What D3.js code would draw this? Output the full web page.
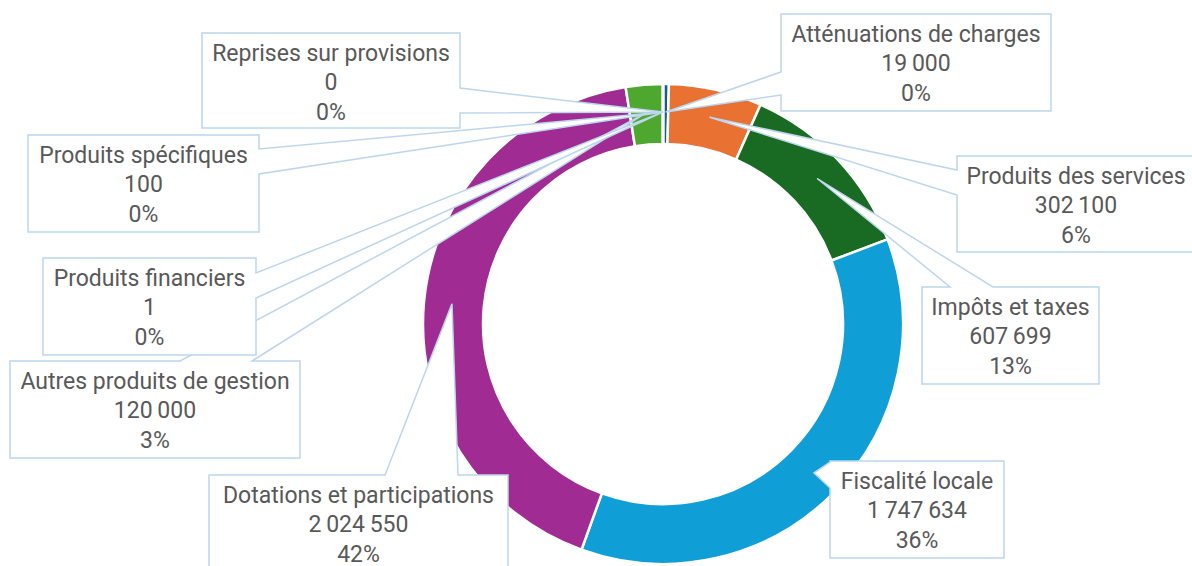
<!DOCTYPE html>
<html>
<head>
<meta charset="utf-8">
<script src="https://cdn.jsdelivr.net/npm/d3@7"></script>
<style>
  body { margin: 0; background: #fff; }
  .lbl { font-family: Roboto, "Liberation Sans", sans-serif; font-size: 23px; fill: #595959; }
</style>
</head>
<body>
<div class="chart"></div>
<script>
// data
const categories = ["Atténuations de charges", "Produits des services", "Impôts et taxes",
  "Fiscalité locale", "Dotations et participations", "Autres produits de gestion",
  "Produits financiers", "Produits spécifiques", "Reprises sur provisions"];
const values = [19000, 302100, 607699, 1747634, 2024550, 120000, 1, 100, 0];
const percentLabels = ["0%", "6%", "13%", "36%", "42%", "3%", "0%", "0%", "0%"];
const colors = ["#156082", "#E97132", "#196B24", "#0F9ED5", "#A02B93", "#4EA72E",
  "#0B3041", "#8A3F17", "#0D3512"];

// callout boxes were dragged by hand in the original, so they are placed here
const callouts = [
  { x: 781, y: 14, w: 270, h: 97, side: "left", a: 72, b: 95 },
  { x: 957, y: 156, w: 238, h: 96, side: "left", a: 170, b: 195 },
  { x: 922, y: 287, w: 177, h: 97, side: "top", a: 950, b: 993 },
  { x: 830, y: 461, w: 174, h: 97, side: "left", a: 462, b: 488 },
  { x: 209, y: 475, w: 299, h: 97, side: "top", a: 385, b: 458 },
  { x: 10, y: 361, w: 290, h: 97, side: "top", a: 180, b: 252 },
  { x: 43, y: 258, w: 213, h: 97, side: "right", a: 273, b: 298 },
  { x: 28, y: 135, w: 231, h: 97, side: "right", a: 149, b: 174 },
  { x: 202, y: 33, w: 258, h: 95, side: "right", a: 88, b: 113 }
];

const width = 1192, height = 566;
const cx = 663, cy = 324, rOut = 240, rIn = 180;

const fr = d3.formatLocale({ decimal: ",", thousands: "\u2009", grouping: [3], currency: ["", " €"] });
const fmt = fr.format(",d");

const svg = d3.select(".chart").append("svg")
  .attr("width", width)
  .attr("height", height);

const data = categories.map((c, i) => ({ name: c, value: values[i], pct: percentLabels[i], color: colors[i] }));

const pie = d3.pie().sort(null).value(d => d.value);
const arcs = pie(data);

const arc = d3.arc().innerRadius(rIn).outerRadius(rOut);
const tipArc = d3.arc().innerRadius(212).outerRadius(212);

const g = svg.append("g").attr("transform", "translate(" + cx + "," + cy + ")");

g.selectAll("path.slice")
  .data(arcs)
  .join("path")
  .attr("class", "slice")
  .attr("d", arc)
  .attr("fill", d => d.data.color)
  .attr("stroke", "#fff")
  .attr("stroke-width", 2.5);

function calloutPath(c, tip) {
  let p = "M" + c.x + "," + c.y;
  if (c.side == "top") p += "L" + c.a + "," + c.y + "L" + tip[0] + "," + tip[1] + "L" + c.b + "," + c.y;
  p += "L" + (c.x + c.w) + "," + c.y;
  if (c.side == "right") p += "L" + (c.x + c.w) + "," + c.a + "L" + tip[0] + "," + tip[1] + "L" + (c.x + c.w) + "," + c.b;
  p += "L" + (c.x + c.w) + "," + (c.y + c.h);
  p += "L" + c.x + "," + (c.y + c.h);
  if (c.side == "left") p += "L" + c.x + "," + c.b + "L" + tip[0] + "," + tip[1] + "L" + c.x + "," + c.a;
  return p + "Z";
}

// one group per label, drawn in series order so later ones sit on top
const labels = svg.append("g")
  .selectAll("g")
  .data(arcs)
  .join("g");

labels.append("path")
  .attr("d", (d, i) => {
    let t = tipArc.centroid(d);
    return calloutPath(callouts[i], [cx + t[0], cy + t[1]]);
  })
  .attr("fill", "#fff")
  .attr("stroke", "#BDD6EE")
  .attr("stroke-width", 1.5)
  .attr("stroke-linejoin", "miter");

labels.each(function (d, i) {
  let c = callouts[i];
  let lines = [d.data.name, fmt(d.data.value), d.data.pct];
  d3.select(this).selectAll("text")
    .data(lines)
    .join("text")
    .attr("class", "lbl")
    .attr("text-anchor", "middle")
    .attr("x", c.x + c.w / 2)
    .attr("y", (t, k) => c.y + 27.5 + k * 29.5)
    .text(t => t);
});
</script>
</body>
</html>
